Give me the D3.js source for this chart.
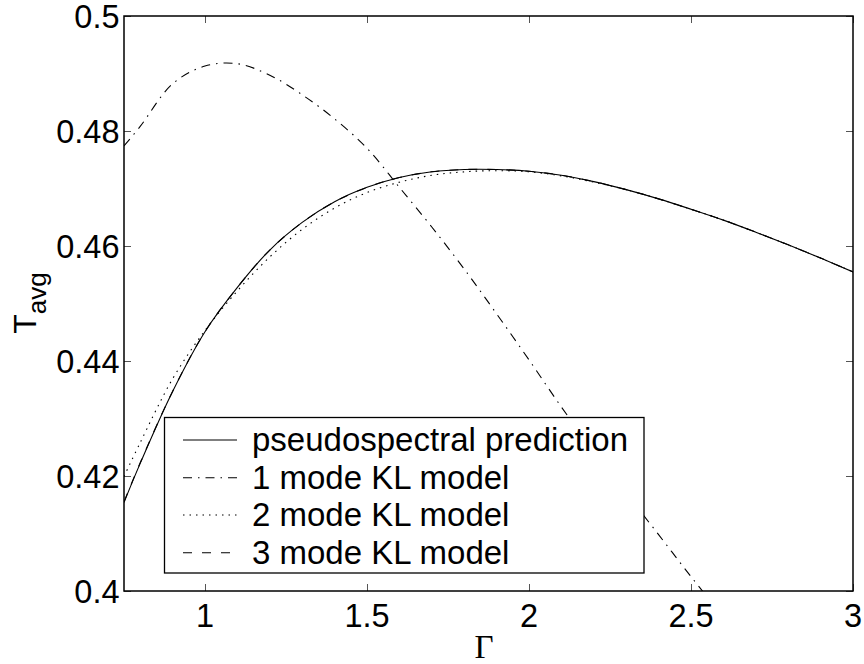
<!DOCTYPE html>
<html>
<head>
<meta charset="utf-8">
<script src="https://cdn.jsdelivr.net/npm/d3@7"></script>
<style>
  html, body { margin: 0; padding: 0; background: #fff; }
  svg { display: block; }
</style>
</head>
<body>
<svg id="chart" width="864" height="664"></svg>
<script>
// Average temperature versus Gamma for the pseudospectral solution and KL reduced models
const gammaValues = [0.75, 0.8, 0.9, 1.0, 1.1, 1.2, 1.3, 1.4, 1.5, 1.6, 1.7, 1.8,
                     1.9, 2.0, 2.1, 2.2, 2.3, 2.4, 2.5, 2.6, 2.7, 2.8, 2.9, 3.0];
const pseudospectral = [0.4154, 0.4222, 0.4347, 0.4451, 0.4528, 0.4593, 0.4641, 0.4677, 0.4702, 0.4719, 0.4729, 0.4733,
                        0.4733, 0.4730, 0.4723, 0.4712, 0.4698, 0.4682, 0.4664, 0.4645, 0.4624, 0.4602, 0.4579, 0.4555];
const kl1Mode = [0.4774, 0.4808, 0.4882, 0.4913, 0.4917, 0.4897, 0.4863, 0.4821, 0.4770, 0.4702, 0.4633, 0.4560,
                 0.4482, 0.4402, 0.4320, 0.4243, 0.4170, 0.4098, 0.4025, 0.3955, null, null, null, null];
const kl2Mode = [0.4199, 0.4258, 0.4369, 0.4453, 0.4522, 0.4581, 0.4629, 0.4666, 0.4693, 0.4711, 0.4723, 0.4729,
                 0.4731, 0.4729, 0.4722, 0.4711, 0.4698, 0.4682, 0.4664, 0.4645, 0.4624, 0.4602, 0.4579, 0.4555];
const kl3Mode = [0.4155, 0.4223, 0.4347, 0.4451, 0.4528, 0.4593, 0.4641, 0.4677, 0.4702, 0.4719, 0.4729, 0.4733,
                 0.4733, 0.4730, 0.4723, 0.4712, 0.4698, 0.4682, 0.4664, 0.4645, 0.4624, 0.4602, 0.4579, 0.4555];
const xTicks = [1, 1.5, 2, 2.5, 3];
const yTicks = [0.4, 0.42, 0.44, 0.46, 0.48, 0.5];
const seriesNames = ["pseudospectral prediction", "1 mode KL model", "2 mode KL model", "3 mode KL model"];

const dashStyles = [null, "9,6,1.5,6", "1.5,5", "9,10"];
const seriesValues = [pseudospectral, kl1Mode, kl2Mode, kl3Mode];

const SANS = "'Liberation Sans', Arial, Helvetica, sans-serif";
const SERIF = "'Liberation Serif', 'Times New Roman', Times, serif";

const svg = d3.select("#chart");
const plot = { left: 124, right: 853, top: 16, bottom: 591 };

const x = d3.scaleLinear().domain([0.75, 3]).range([plot.left, plot.right]);
const y = d3.scaleLinear().domain([0.4, 0.5]).range([plot.bottom, plot.top]);

svg.append("rect").attr("width", 864).attr("height", 664).attr("fill", "#fff");

svg.append("defs").append("clipPath").attr("id", "plotClip")
  .append("rect")
  .attr("x", plot.left).attr("y", plot.top)
  .attr("width", plot.right - plot.left).attr("height", plot.bottom - plot.top);

// Ticks on all four sides, pointing inward
const tickLen = 7;
const tickStyle = sel => sel.attr("stroke", "#555").attr("stroke-width", 1);

const xAxisBottom = d3.axisTop(x).tickValues(xTicks).tickSize(tickLen).tickFormat("");
const xAxisTop = d3.axisBottom(x).tickValues(xTicks).tickSize(tickLen).tickFormat("");
const yAxisLeft = d3.axisRight(y).tickValues(yTicks).tickSize(tickLen).tickFormat("");
const yAxisRight = d3.axisLeft(y).tickValues(yTicks).tickSize(tickLen).tickFormat("");

[[xAxisBottom, `translate(0,${plot.bottom})`],
 [xAxisTop, `translate(0,${plot.top})`],
 [yAxisLeft, `translate(${plot.left},0)`],
 [yAxisRight, `translate(${plot.right},0)`]].forEach(([axis, tr]) => {
  const g = svg.append("g").attr("transform", tr).call(axis);
  g.select(".domain").remove();
  g.selectAll(".tick line").call(tickStyle);
});

// Tick labels
svg.append("g").selectAll("text").data(xTicks).join("text")
  .attr("x", d => x(d)).attr("y", 627)
  .attr("text-anchor", "middle")
  .style("font-family", SANS).style("font-size", "32.5px")
  .text(d => d3.format("~g")(d));

svg.append("g").selectAll("text").data(yTicks).join("text")
  .attr("x", 119.5).attr("y", d => y(d) + 12)
  .attr("text-anchor", "end")
  .style("font-family", SANS).style("font-size", "32.5px")
  .text(d => d3.format("~g")(d));

// Curves
const line = d3.line()
  .defined(d => d[1] !== null)
  .x(d => x(d[0])).y(d => y(d[1]))
  .curve(d3.curveCatmullRom.alpha(0.5));

const curves = svg.append("g").attr("clip-path", "url(#plotClip)");
// the solid prediction goes last so it sits on top
[1, 2, 3, 0].forEach(i => {
  curves.append("path")
    .datum(gammaValues.map((g, k) => [g, seriesValues[i][k]]))
    .attr("d", line)
    .attr("fill", "none")
    .attr("stroke", "#000")
    .attr("stroke-width", 1.1)
    .attr("stroke-dasharray", dashStyles[i]);
});

// Plot frame
svg.append("rect")
  .attr("x", plot.left).attr("y", plot.top)
  .attr("width", plot.right - plot.left).attr("height", plot.bottom - plot.top)
  .attr("fill", "none").attr("stroke", "#000").attr("stroke-width", 1.5);

// Legend
const legend = svg.append("g");
legend.append("rect")
  .attr("x", 164.5).attr("y", 417.5).attr("width", 479.5).attr("height", 155.5)
  .attr("fill", "#fff").attr("stroke", "#000").attr("stroke-width", 1.3);
const rowY = [440, 477.7, 515, 552.7];
seriesNames.forEach((name, i) => {
  legend.append("line")
    .attr("x1", 183).attr("x2", 237)
    .attr("y1", rowY[i]).attr("y2", rowY[i])
    .attr("stroke", "#000").attr("stroke-width", 1.1)
    .attr("stroke-dasharray", dashStyles[i]);
  legend.append("text")
    .attr("x", 252).attr("y", rowY[i] + 10.8)
    .style("font-family", SANS).style("font-size", "33px")
    .text(name);
});

// Axis titles
const yTitle = svg.append("text")
  .attr("transform", "translate(36,303) rotate(-90)")
  .attr("text-anchor", "middle")
  .style("font-family", SANS).style("font-size", "32px");
yTitle.append("tspan").text("T");
yTitle.append("tspan").style("font-size", "26px").attr("dy", 10).text("avg");

svg.append("text")
  .attr("x", 484).attr("y", 658)
  .attr("text-anchor", "middle")
  .style("font-family", SERIF).style("font-size", "33px")
  .text("Γ");
</script>
</body>
</html>
